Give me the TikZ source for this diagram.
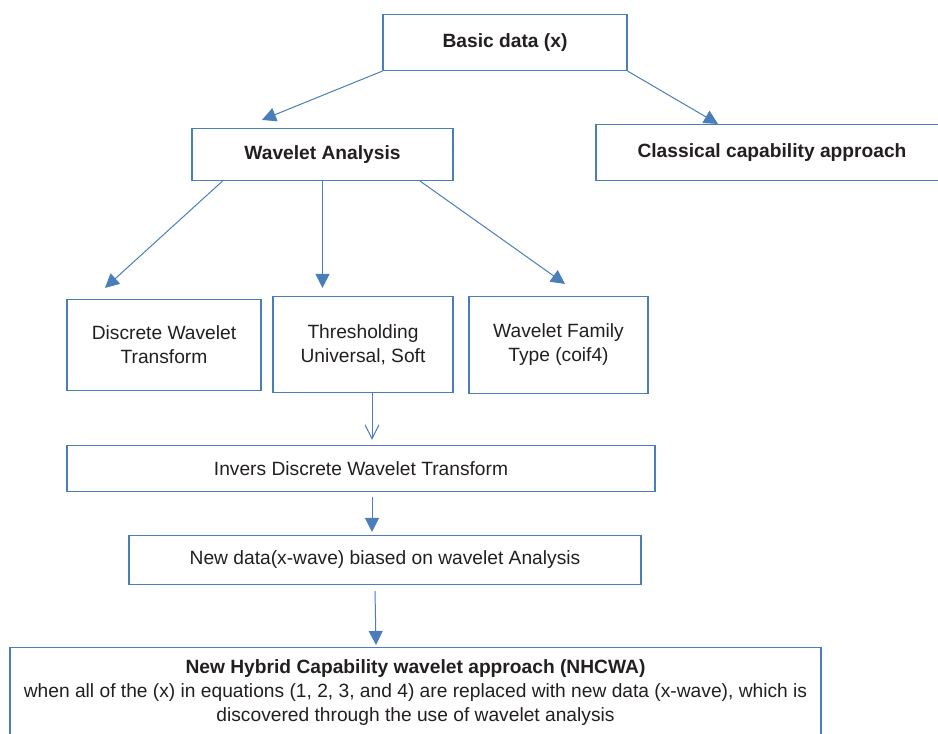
\documentclass[tikz,border=0pt]{standalone}
\usepackage{fontspec}
\setmainfont{Liberation Sans}
\usetikzlibrary{arrows.meta}
\definecolor{lineblue}{HTML}{4A7EBB}
\definecolor{ink}{HTML}{231F20}
\begin{document}
\begin{tikzpicture}[x=1pt, y=-1pt,
    box/.style={draw=lineblue, line width=1.1pt, text=ink, align=center, inner sep=0pt,
      font=\fontsize{19.2}{24}\selectfont},
    arr/.style={draw=lineblue, line width=1pt, -{Triangle[length=14pt,width=14pt]}},
    openarr/.style={draw=lineblue, line width=1pt, -{Straight Barb[length=14pt,width=14pt]}}]
  \useasboundingbox (0,0) rectangle (938,734);
  \node[box, minimum width=244pt, minimum height=56pt] (basic) at (505,42.5) {\textbf{Basic data (x)}};
  \node[box, minimum width=261pt, minimum height=52pt] (wavelet) at (322.5,154.5) {\textbf{Wavelet Analysis}};
  \node[box, minimum width=352pt, minimum height=56pt] (classical) at (772,152.5) {\textbf{Classical capability approach}};
  \node[box, minimum width=194pt, minimum height=91pt] (dwt) at (164,345) {Discrete Wavelet\\Transform};
  \node[box, minimum width=180pt, minimum height=96pt] (thresh) at (363,344.5) {Thresholding\\Universal, Soft};
  \node[box, minimum width=179pt, minimum height=97pt] (family) at (558.5,345) {Wavelet Family\\Type (coif4)};
  \node[box, minimum width=588pt, minimum height=46pt] (invers) at (361,468.5) {Invers Discrete Wavelet Transform};
  \node[box, minimum width=512pt, minimum height=49pt] (newdata) at (385,560) {New data(x-wave) biased on wavelet Analysis};
  \node[box, minimum width=811pt, minimum height=90pt] (nhcwa) at (415.5,692.5)
    {\textbf{New Hybrid Capability wavelet approach (NHCWA)}\\
     when all of the (x) in equations (1, 2, 3, and 4) are replaced with new data (x-wave), which is\\
     discovered through the use of wavelet analysis};

  \draw[arr] (basic.south west) -- ([shift={(-60.5,-8)}]wavelet.north);
  \draw[arr] (basic.south east) -- ([shift={(-54,0)}]classical.north);
  \draw[arr] ([shift={(-100,0)}]wavelet.south) -- ([shift={(-59,-11)}]dwt.north);
  \draw[arr] (wavelet.south) -- ([shift={(-40.5,-8)}]thresh.north);
  \draw[arr] ([shift={(97.5,0)}]wavelet.south) -- ([shift={(6.5,-12)}]family.north);
  \draw[openarr] ([shift={(9,0)}]thresh.south) -- ([shift={(11,-5)}]invers.north);
  \draw[arr] ([shift={(11,5)}]invers.south) -- ([shift={(-13,-3)}]newdata.north);
  \draw[arr] ([shift={(-10,6)}]newdata.south) -- ([shift={(-39.5,-2)}]nhcwa.north);
\end{tikzpicture}
\end{document}
